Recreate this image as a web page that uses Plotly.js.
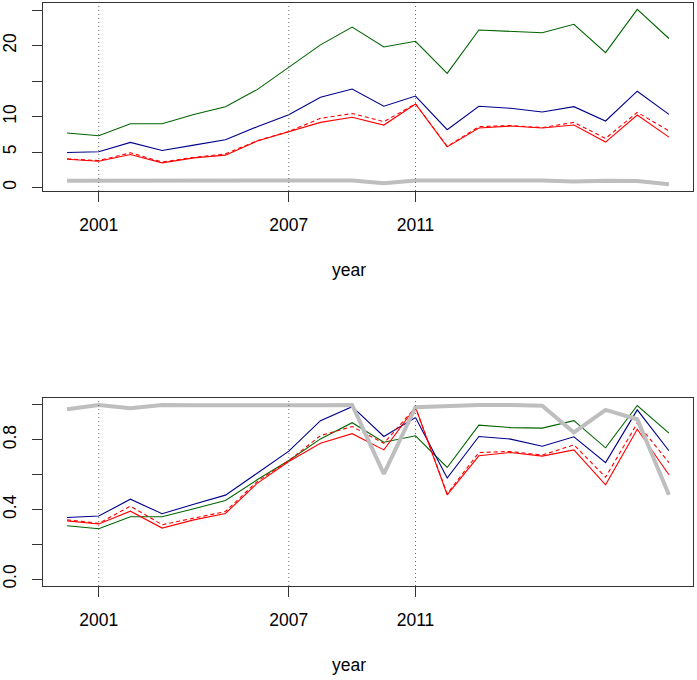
<!DOCTYPE html>
<html>
<head>
<meta charset="utf-8">
<script src="https://cdn.plot.ly/plotly-3.0.1.min.js"></script>
<style>
  html, body { margin: 0; padding: 0; background: #fff; }
  #chart { width: 697px; height: 680px; }
</style>
</head>
<body>
<div id="chart"></div>
<script>
var years = [2000, 2001, 2002, 2003, 2004, 2005, 2006, 2007, 2008, 2009,
             2010, 2011, 2012, 2013, 2014, 2015, 2016, 2017, 2018, 2019];

// top panel (levels)
var greenTop = [7.7, 7.3, 9.0, 9.0, 10.3, 11.4, 13.8, 16.9, 20.1, 22.6,
                19.8, 20.6, 16.1, 22.2, 22.0, 21.8, 23.0, 19.0, 25.1, 21.0];
var blueTop = [4.95, 5.04, 6.36, 5.23, 5.98, 6.73, 8.57, 10.27, 12.73, 13.88,
               11.46, 12.9, 8.15, 11.46, 11.17, 10.65, 11.4, 9.38, 13.58, 10.32];
var redTop = [4.0, 3.72, 4.67, 3.48, 4.19, 4.57, 6.55, 7.86, 9.19, 9.9,
              8.81, 11.78, 5.74, 8.39, 8.67, 8.39, 8.81, 6.41, 10.23, 7.11];
var redDashTop = [4.05, 3.8, 4.9, 3.6, 4.25, 4.75, 6.6, 7.9, 9.76, 10.43,
                  9.28, 11.8, 5.8, 8.58, 8.75, 8.45, 9.19, 6.93, 10.6, 8.0];

// bottom panel (shares)
var greenBot = [0.306, 0.289, 0.358, 0.358, 0.404, 0.451, 0.57, 0.681, 0.805, 0.898,
                0.786, 0.823, 0.641, 0.884, 0.87, 0.867, 0.91, 0.754, 0.997, 0.838];
var blueBot = [0.354, 0.362, 0.459, 0.375, 0.43, 0.482, 0.608, 0.735, 0.91, 0.99,
               0.819, 0.928, 0.58, 0.819, 0.804, 0.763, 0.817, 0.669, 0.972, 0.737];
var redBot = [0.334, 0.316, 0.39, 0.293, 0.34, 0.377, 0.55, 0.675, 0.78, 0.835,
              0.742, 0.987, 0.484, 0.708, 0.727, 0.706, 0.742, 0.541, 0.861, 0.599];
var redDashBot = [0.34, 0.32, 0.419, 0.312, 0.35, 0.388, 0.56, 0.68, 0.824, 0.876,
                  0.78, 0.987, 0.49, 0.727, 0.733, 0.712, 0.771, 0.585, 0.895, 0.669];

// thick grey line, same in both panels
var grayShare = [0.976, 1.0, 0.981, 1.0, 0.999, 0.998, 0.999, 0.999, 0.999, 1.0,
                 0.604, 0.987, 0.995, 1.0, 1.0, 0.995, 0.842, 0.972, 0.918, 0.484];

var markYears = [2001, 2007, 2011];
var topTicks = [0, 5, 10, 15, 20, 25];
var topTickText = ['0', '5', '10', '', '20', ''];
var botTicks = [0, 0.2, 0.4, 0.6, 0.8, 1.0];
var botTickText = ['0.0', '', '0.4', '', '0.8', ''];

function line(y, color, width, dash, xa, ya) {
  return {
    x: years, y: y, type: 'scatter', mode: 'lines',
    xaxis: xa, yaxis: ya, hoverinfo: 'skip',
    line: { color: color, width: width, dash: dash || 'solid' }
  };
}

var data = [
  line(greenTop, '#006400', 1.1, null, 'x', 'y'),
  line(blueTop, '#00008B', 1.1, null, 'x', 'y'),
  line(redTop, '#FF0000', 1.1, null, 'x', 'y'),
  line(redDashTop, '#FF0000', 1.1, '4px,3px', 'x', 'y'),
  line(grayShare, '#BEBEBE', 4, null, 'x', 'y'),

  line(greenBot, '#006400', 1.1, null, 'x2', 'y2'),
  line(blueBot, '#00008B', 1.1, null, 'x2', 'y2'),
  line(redBot, '#FF0000', 1.1, null, 'x2', 'y2'),
  line(redDashBot, '#FF0000', 1.1, '4px,3px', 'x2', 'y2'),
  line(grayShare, '#BEBEBE', 4, null, 'x2', 'y2')
];

var font = { family: 'Liberation Sans, Arial, sans-serif', size: 17.5, color: '#000' };

function xAxis(anchor) {
  return {
    anchor: anchor, domain: [0, 1],
    range: [1999.24, 2019.76],
    tickmode: 'array', tickvals: markYears, ticktext: markYears.map(String),
    ticks: 'outside', ticklen: 10, tickcolor: '#333', tickwidth: 1,
    ticklabelstandoff: 8,
    showline: true, linecolor: '#333', linewidth: 1, mirror: true,
    showgrid: false, zeroline: false, tickfont: font
  };
}

function yAxis(anchor, domain, range, vals, text) {
  return {
    anchor: anchor, domain: domain, range: range,
    tickmode: 'array', tickvals: vals, ticktext: text,
    ticks: 'outside', ticklen: 10, tickcolor: '#333', tickwidth: 1,
    tickangle: -90, ticklabelstandoff: 9,
    showline: true, linecolor: '#333', linewidth: 1, mirror: true,
    showgrid: false, zeroline: false, tickfont: font
  };
}

var shapes = [];
markYears.forEach(function (yr) {
  ['y', 'y2'].forEach(function (ya, i) {
    shapes.push({
      type: 'line', xref: i === 0 ? 'x' : 'x2', yref: ya + ' domain',
      x0: yr, x1: yr, y0: 0, y1: 1,
      line: { color: '#666', width: 1, dash: '1px,3px' }
    });
  });
});

var layout = {
  width: 697, height: 680,
  margin: { l: 43, r: 4, t: 0, b: 0 },
  paper_bgcolor: '#fff', plot_bgcolor: '#fff',
  showlegend: false,
  xaxis: xAxis('y'),
  yaxis: yAxis('x', [0.7191, 0.9956], [-0.48, 26.0], topTicks, topTickText),
  xaxis2: xAxis('y2'),
  yaxis2: yAxis('x2', [0.1382, 0.4147], [-0.04, 1.04], botTicks, botTickText),
  shapes: shapes,
  annotations: [
    { text: 'year', xref: 'paper', yref: 'paper', x: 0.471, y: 1 - 270 / 680,
      xanchor: 'center', yanchor: 'middle', showarrow: false, font: font },
    { text: 'year', xref: 'paper', yref: 'paper', x: 0.471, y: 1 - 665 / 680,
      xanchor: 'center', yanchor: 'middle', showarrow: false, font: font }
  ]
};

Plotly.newPlot('chart', data, layout, { displayModeBar: false, staticPlot: true });
</script>
</body>
</html>
